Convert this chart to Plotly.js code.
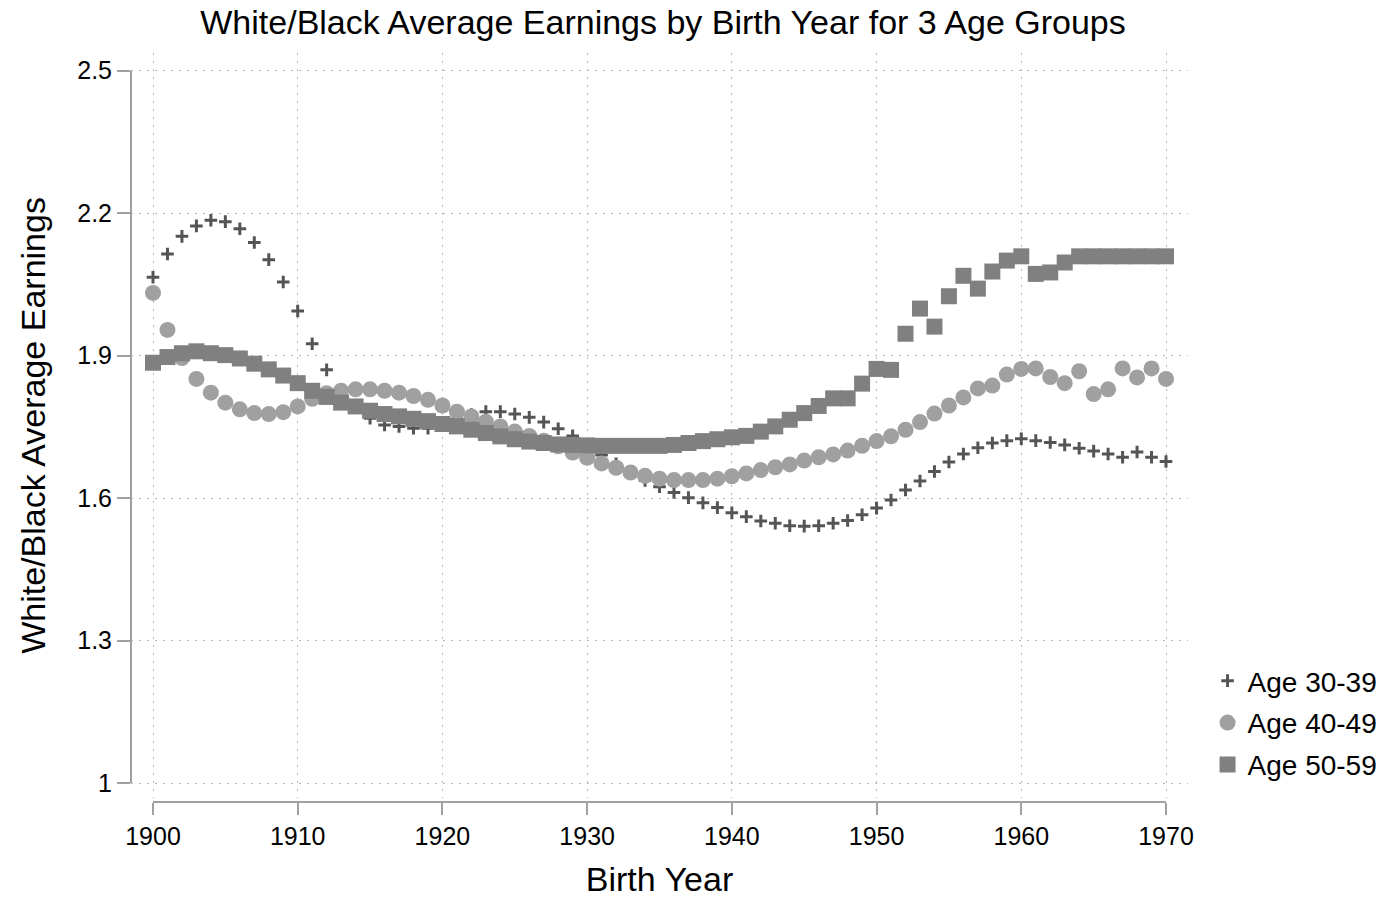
<!DOCTYPE html>
<html>
<head>
<meta charset="utf-8">
<script src="https://cdn.plot.ly/plotly-3.0.1.min.js"></script>
<style>html,body{margin:0;padding:0;background:#fff;}#chart{width:1390px;height:901px;}</style>
</head>
<body>
<div id="chart"></div>
<script>
const years = [1900,1901,1902,1903,1904,1905,1906,1907,1908,1909,
  1910,1911,1912,1913,1914,1915,1916,1917,1918,1919,
  1920,1921,1922,1923,1924,1925,1926,1927,1928,1929,
  1930,1931,1932,1933,1934,1935,1936,1937,1938,1939,
  1940,1941,1942,1943,1944,1945,1946,1947,1948,1949,
  1950,1951,1952,1953,1954,1955,1956,1957,1958,1959,
  1960,1961,1962,1963,1964,1965,1966,1967,1968,1969,1970];

const age3039 = [2.065,2.114,2.151,2.173,2.185,2.182,2.167,2.138,2.102,2.055,
  1.994,1.925,1.870,1.825,1.792,1.768,1.754,1.751,1.747,1.747,
  1.755,1.766,1.776,1.782,1.782,1.777,1.770,1.760,1.746,1.731,
  1.712,1.691,1.672,1.652,1.637,1.624,1.612,1.601,1.590,1.580,
  1.569,1.561,1.552,1.547,1.542,1.541,1.542,1.547,1.553,1.565,
  1.579,1.596,1.617,1.636,1.656,1.676,1.693,1.706,1.716,1.721,
  1.725,1.721,1.717,1.712,1.705,1.699,1.693,1.686,1.697,1.686,1.677];

const age4049 = [2.032,1.954,1.895,1.851,1.822,1.801,1.787,1.779,1.777,1.781,
  1.793,1.809,1.821,1.826,1.829,1.829,1.826,1.822,1.815,1.807,
  1.795,1.782,1.772,1.761,1.751,1.740,1.731,1.721,1.709,1.696,
  1.685,1.673,1.664,1.654,1.647,1.641,1.638,1.638,1.638,1.641,
  1.646,1.652,1.659,1.665,1.671,1.679,1.686,1.692,1.700,1.710,
  1.720,1.730,1.744,1.760,1.778,1.795,1.812,1.831,1.837,1.860,
  1.872,1.873,1.855,1.842,1.867,1.819,1.829,1.873,1.854,1.873,1.851];

const age5059 = [1.885,1.897,1.905,1.909,1.905,1.901,1.894,1.883,1.871,1.858,
  1.842,1.826,1.813,1.801,1.793,1.784,1.777,1.772,1.767,1.762,
  1.756,1.751,1.744,1.737,1.730,1.724,1.719,1.716,1.713,1.712,
  1.711,1.710,1.710,1.710,1.710,1.710,1.712,1.716,1.720,1.724,
  1.728,1.731,1.740,1.751,1.765,1.779,1.794,1.810,1.810,1.841,
  1.872,1.870,1.946,1.999,1.961,2.025,2.068,2.041,2.077,2.100,
  2.109,2.072,2.075,2.096,2.109,2.109,2.109,2.109,2.109,2.109,2.109];

const seriesNames = ["Age 30-39","Age 40-49","Age 50-59"];
const xTickVals = [1900,1910,1920,1930,1940,1950,1960,1970];
const xTickText = ["1900","1910","1920","1930","1940","1950","1960","1970"];
const yTickVals = [1,1.3,1.6,1.9,2.2,2.5];
const yTickText = ["1","1.3","1.6","1.9","2.2","2.5"];

const FONT = "Liberation Sans, Arial, sans-serif";
const axisGray = "#a0a0a0";

const traces = [
  {x: years, y: age3039, name: seriesNames[0], legendgroup: "g1", type: "scatter", mode: "markers",
   marker: {symbol: "cross-thin", size: 9, color: "#555555", line: {color: "#555555", width: 3}}},
  {x: years, y: age4049, name: seriesNames[1], legendgroup: "g2", type: "scatter", mode: "markers",
   marker: {symbol: "circle", size: 16, color: "#a0a0a0", line: {width: 0}}},
  {x: years, y: age5059, name: seriesNames[2], legendgroup: "g3", type: "scatter", mode: "markers",
   marker: {symbol: "square", size: 16, color: "#808080", line: {width: 0}}}
];

const layout = {
  width: 1390, height: 901,
  paper_bgcolor: "#ffffff", plot_bgcolor: "#ffffff",
  font: {family: FONT, color: "#000000", size: 25},
  margin: {l: 131, r: 202, t: 53, b: 99, pad: 0, autoexpand: false},
  title: {text: "White/Black Average Earnings by Birth Year for 3 Age Groups",
          font: {family: FONT, size: 34, color: "#000000"},
          x: 0.477, xanchor: "center", y: 0.976, yanchor: "middle", xref: "container", yref: "container"},
  showlegend: true,
  legend: {x: 1.0185, xanchor: "left", y: 0.195, yanchor: "top",
           font: {family: FONT, size: 28, color: "#000"}, bgcolor: "rgba(0,0,0,0)",
           itemsizing: "trace", traceorder: "grouped", tracegroupgap: 2.5},
  xaxis: {
    range: [1898.48, 1971.52], anchor: "free", position: 0,
    tickmode: "array", tickvals: xTickVals, ticktext: xTickText,
    ticks: "outside", ticklen: 12, tickwidth: 2, tickcolor: axisGray,
    showline: false, zeroline: false,
    showgrid: true, gridcolor: "#b8b8b8", gridwidth: 1, griddash: "2px,6px",
    tickfont: {family: FONT, size: 25, color: "#000"},
    title: {text: "Birth Year", font: {family: FONT, size: 34, color: "#000"}, standoff: 18}
  },
  yaxis: {
    range: [0.969, 2.537], domain: [0.0055, 1],
    tickmode: "array", tickvals: yTickVals, ticktext: yTickText,
    ticks: "outside", ticklen: 13, tickwidth: 2, tickcolor: axisGray,
    showline: false, zeroline: false,
    showgrid: true, gridcolor: "#b8b8b8", gridwidth: 1, griddash: "2px,6px",
    tickfont: {family: FONT, size: 25, color: "#000"},
    title: {text: "White/Black Average Earnings", font: {family: FONT, size: 34, color: "#000"}, standoff: 21}
  },
  shapes: [
    {type: "line", xref: "paper", yref: "y", x0: 0, x1: 0,
     y0: yTickVals[0], y1: yTickVals[yTickVals.length - 1],
     line: {color: axisGray, width: 2}},
    {type: "line", xref: "x", yref: "paper", y0: 0, y1: 0,
     x0: xTickVals[0], x1: xTickVals[xTickVals.length - 1],
     line: {color: axisGray, width: 2}}
  ]
};

Plotly.newPlot("chart", traces, layout, {displayModeBar: false, staticPlot: true});
</script>
</body>
</html>
